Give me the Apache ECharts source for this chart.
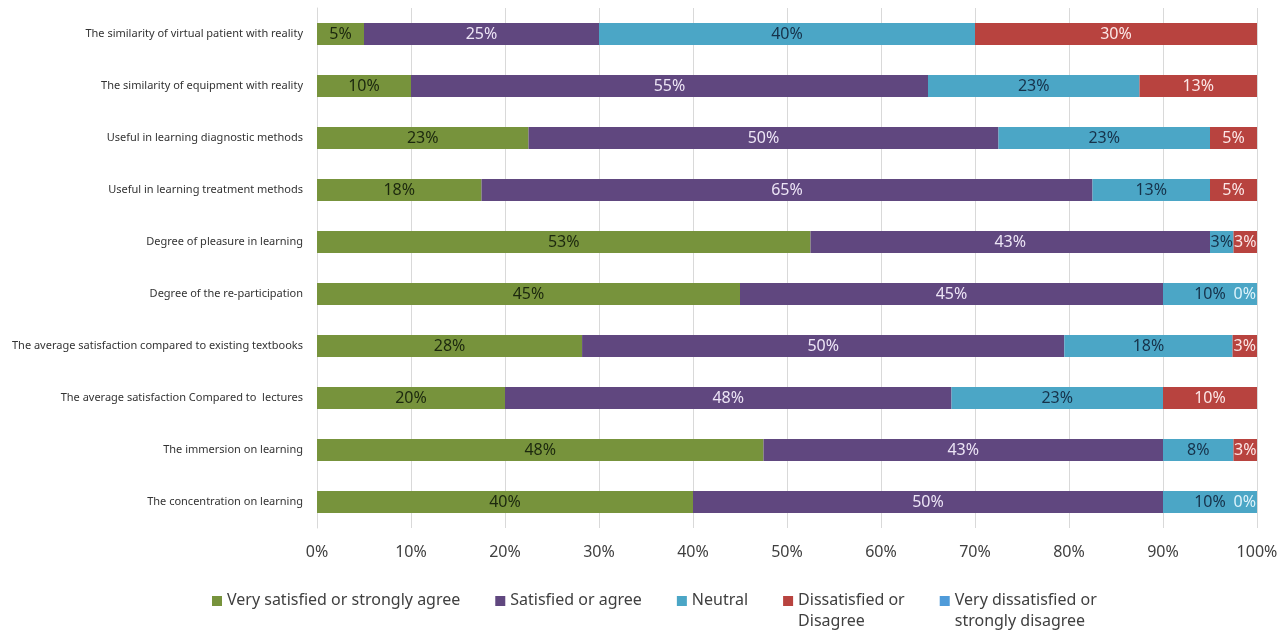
<!DOCTYPE html>
<html>
<head>
<meta charset="utf-8">
<script src="https://cdn.jsdelivr.net/npm/echarts@6/dist/echarts.min.js"></script>
<style>
html,body{margin:0;padding:0;background:#fff;}
#chart{width:1285px;height:630px;}
</style>
</head>
<body>
<div id="chart"></div>
<script>
const categories = [
  "The similarity of virtual patient with reality",
  "The similarity of equipment with reality",
  "Useful in learning diagnostic methods",
  "Useful in learning treatment methods",
  "Degree of pleasure in learning",
  "Degree of the re-participation",
  "The average satisfaction compared to existing textbooks",
  "The average satisfaction Compared to  lectures",
  "The immersion on learning",
  "The concentration on learning"
];
const seriesNames = [
  "Very satisfied or strongly agree",
  "Satisfied or agree",
  "Neutral",
  "Dissatisfied or\nDisagree",
  "Very dissatisfied or\nstrongly disagree"
];
const verySatisfied    = [5, 10, 22.5, 17.5, 52.5, 45, 28.2, 20, 47.5, 40];
const satisfied        = [25, 55, 50, 65, 42.5, 45, 51.3, 47.5, 42.5, 50];
const neutral          = [40, 22.5, 22.5, 12.5, 2.5, 10, 17.9, 22.5, 7.5, 10];
const dissatisfied     = [30, 12.5, 5, 5, 2.5, 0, 2.6, 10, 2.5, 0];
const veryDissatisfied = [0, 0, 0, 0, 0, 0, 0, 0, 0, 0];

const verySatisfiedLabels = ["5%","10%","23%","18%","53%","45%","28%","20%","48%","40%"];
const satisfiedLabels     = ["25%","55%","50%","65%","43%","45%","50%","48%","43%","50%"];
const neutralLabels       = ["40%","23%","23%","13%","3%","10%","18%","23%","8%","10%"];
const dissatisfiedLabels  = ["30%","13%","5%","5%","3%","0%","3%","10%","3%","0%"];

const xTicks = [0,10,20,30,40,50,60,70,80,90,100];

const colors = ['#77933C', '#60477F', '#4BA6C6', '#B8433F', '#4F9BD9'];
const labelColors = ['#1c280e', '#ece4f5', '#16324a', '#fbe6e6', '#ffffff'];
const FONT = "'Noto Sans', 'Open Sans', sans-serif";
// legend square drawn at the top of a taller box so it lines up with the first text line
const LEGEND_ICON = 'path://M0,0H10V10H0Z M0,30H0.01';

function makeSeries(idx, values, labels) {
  return {
    name: seriesNames[idx],
    type: 'bar',
    stack: 'total',
    barWidth: 22,
    itemStyle: { color: colors[idx] },
    label: {
      show: !!labels,
      position: 'inside',
      color: labelColors[idx],
      fontSize: 16,
      fontFamily: FONT,
      formatter: p => labels ? labels[p.dataIndex] : ''
    },
    data: values.map(v => v === 0 && labels ? {
      value: v,
      label: { position: 'insideRight', offset: [4, 0], color: '#def3fb' }
    } : v)
  };
}

const chart = echarts.init(document.getElementById('chart'));
chart.setOption({
  backgroundColor: '#ffffff',
  animation: false,
  color: colors,
  grid: { left: 317, right: 28, top: 8, bottom: 102, containLabel: false, outerBoundsMode: 'none' },
  xAxis: {
    type: 'value',
    min: xTicks[0],
    max: xTicks[xTicks.length - 1],
    interval: 10,
    axisLine: { show: false },
    axisTick: { show: false },
    splitLine: { show: true, lineStyle: { color: '#d9d9d9', width: 1 } },
    axisLabel: {
      formatter: v => v + '%',
      color: '#404040',
      fontSize: 16,
      fontFamily: FONT,
      margin: 16
    }
  },
  yAxis: {
    type: 'category',
    data: categories,
    inverse: true,
    axisLine: { show: true, lineStyle: { color: '#d9d9d9' } },
    axisTick: { show: false },
    axisLabel: {
      color: '#333333',
      fontSize: 11,
      fontFamily: FONT,
      margin: 14
    }
  },
  legend: {
    left: 207,
    top: 585,
    icon: LEGEND_ICON,
    itemWidth: 10,
    itemHeight: 30,
    itemGap: 35,
    data: seriesNames,
    formatter: n => n.indexOf('\n') < 0 ? n + '\n ' : n,
    textStyle: {
      color: '#404040',
      fontSize: 16,
      fontFamily: FONT,
      lineHeight: 21
    }
  },
  series: [
    makeSeries(0, verySatisfied, verySatisfiedLabels),
    makeSeries(1, satisfied, satisfiedLabels),
    makeSeries(2, neutral, neutralLabels),
    makeSeries(3, dissatisfied, dissatisfiedLabels),
    makeSeries(4, veryDissatisfied, null)
  ]
});
</script>
</body>
</html>
